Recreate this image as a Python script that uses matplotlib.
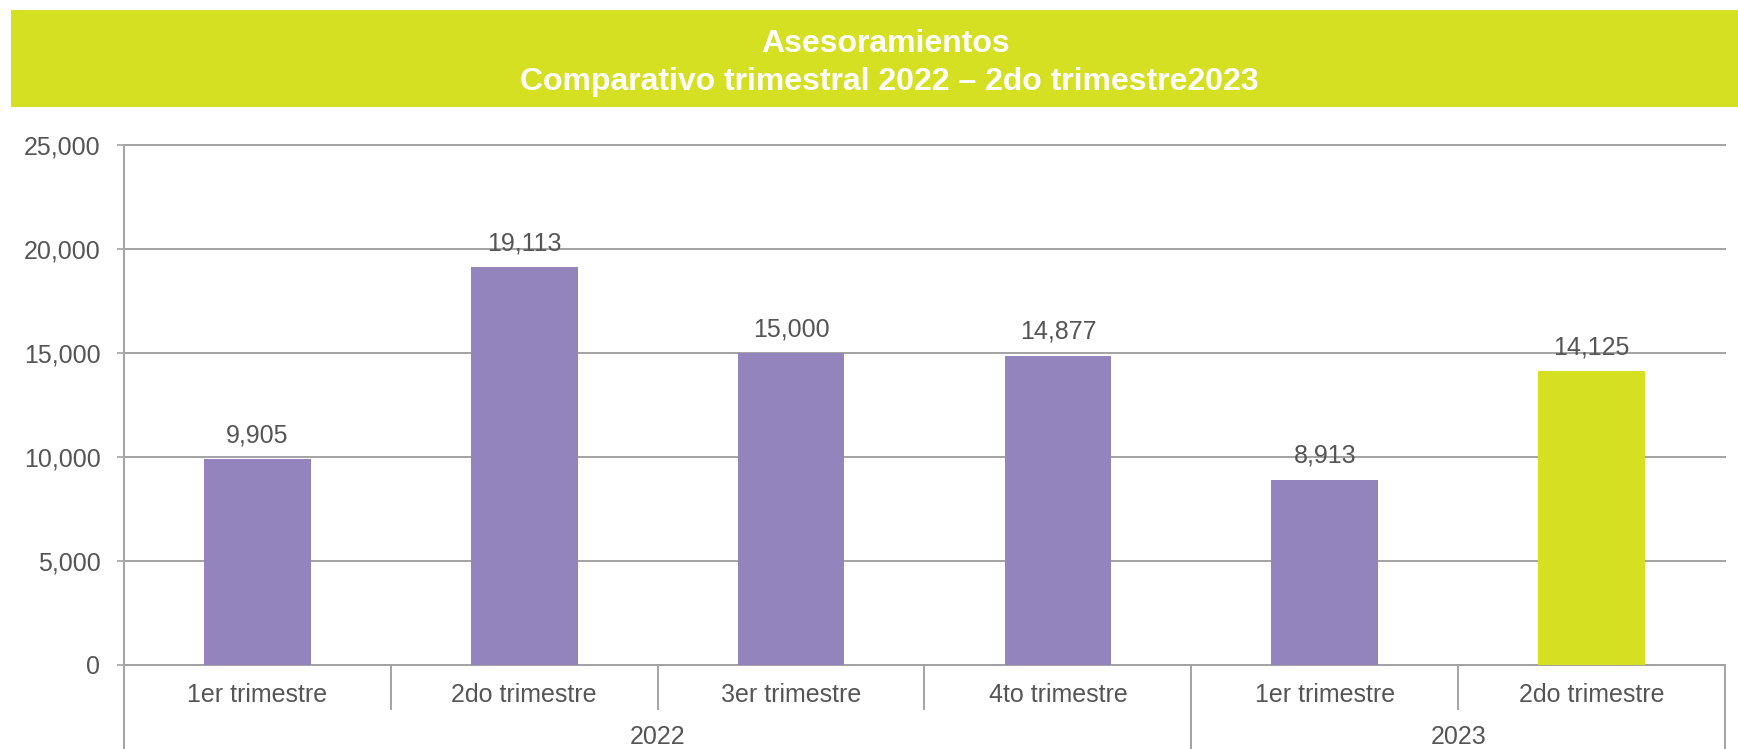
import matplotlib
matplotlib.use("Agg")
import matplotlib.pyplot as plt
from matplotlib.patches import Rectangle
from matplotlib.ticker import FuncFormatter, MultipleLocator

plt.rcParams['font.family'] = ['Liberation Sans', 'DejaVu Sans']

# ---- data ----
quarters = ["1er trimestre", "2do trimestre", "3er trimestre", "4to trimestre",
            "1er trimestre", "2do trimestre"]
years = ["2022", "2023"]
year_counts = [4, 2]
values = [9905, 19113, 15000, 14877, 8913, 14125]
bar_colors = ["#9384BE", "#9384BE", "#9384BE", "#9384BE", "#9384BE", "#D6E022"]
title_line1 = "Asesoramientos"
title_line2 = "Comparativo trimestral 2022 – 2do trimestre2023"

TXT = "#555555"
GRID = "#A3A3A3"
W, H = 1738, 749
FS = 18

fig = plt.figure(figsize=(W / 100, H / 100), dpi=100)
fig.patch.set_facecolor("white")

# title banner
fig.patches.append(Rectangle((11 / W, (H - 107) / H), 1 - 11 / W, 97 / H,
                             transform=fig.transFigure, facecolor="#D6E022",
                             edgecolor="none", zorder=0))
fig.text(886 / W, (H - 52) / H, title_line1, color="white", fontsize=23,
         fontweight="bold", ha="center", va="baseline")
fig.text(889 / W, (H - 90) / H, title_line2, color="white", fontsize=23,
         fontweight="bold", ha="center", va="baseline")

left, right, top, bottom = 124, 1725, 145, 665
ax = fig.add_axes([left / W, (H - bottom) / H, (right - left) / W, (bottom - top) / H])
axh = bottom - top

x = list(range(len(values)))
bars = ax.bar(x, values, width=0.4, color=bar_colors, zorder=3)
for xi, v in zip(x, values):
    ax.annotate(f"{v:,}", (xi, v), xytext=(0, 12), textcoords="offset points",
                ha="center", va="baseline", fontsize=FS, color=TXT, zorder=4)

ax.set_xlim(-0.5, len(values) - 0.5)
ax.set_ylim(0, 25000)
ax.yaxis.set_major_locator(MultipleLocator(5000))
ax.yaxis.set_major_formatter(FuncFormatter(lambda v, p: f"{int(v):,}"))
ax.grid(axis="y", color=GRID, linewidth=1.4, zorder=0)
for gl in ax.get_ygridlines():
    gl.set_clip_on(False)
ax.set_axisbelow(True)
ax.tick_params(axis="y", length=5, width=1.2, color=GRID, labelsize=FS,
               labelcolor=TXT, pad=12)
ax.set_xticks([])
for s in ["top", "right"]:
    ax.spines[s].set_visible(False)
ax.spines["left"].set_color(GRID)
ax.spines["left"].set_linewidth(1.4)
ax.spines["bottom"].set_color(GRID)
ax.spines["bottom"].set_linewidth(1.4)

trans = ax.get_xaxis_transform()
short = -44 / axh
full = -(H - bottom) / axh
n = len(values)
boundaries = [-0.5]
acc = -0.5
for c in year_counts:
    acc += c
    boundaries.append(acc)
for i in range(n + 1):
    xb = i - 0.5
    y1 = full if xb in boundaries else short
    ax.plot([xb, xb], [0, y1], transform=trans, color=GRID, linewidth=1.4,
            clip_on=False, zorder=5)
for xi, q in zip(x, quarters):
    ax.text(xi, -30 / axh, q, transform=trans, ha="center", va="center",
            fontsize=FS, color=TXT)
start = 0
for yr, c in zip(years, year_counts):
    center = start + (c - 1) / 2
    ax.text(center, -72 / axh, yr, transform=trans, ha="center", va="center",
            fontsize=FS, color=TXT)
    start += c

fig.savefig("out.png", dpi=100, facecolor="white")
